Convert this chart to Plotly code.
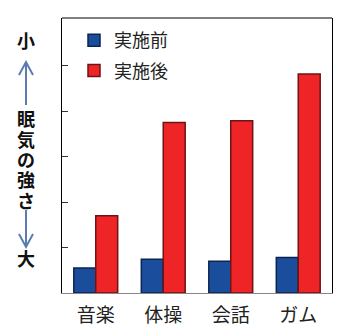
import plotly.graph_objects as go

# Activities and drowsiness scores before / after
categories = ["音楽", "体操", "会話", "ガム"]
before = [0.55, 0.74, 0.70, 0.78]
after = [1.70, 3.75, 3.79, 4.82]
series_names = ["実施前", "実施後"]
y_ticks = [1, 2, 3, 4, 5]

W, H = 342, 333
L, R, T, B = 62, 10, 18, 40
plot_w = W - L - R
plot_h = H - T - B

CJK = "Noto Sans CJK JP"
CAPTION_FONT = "Liberation Sans, Noto Sans CJK JP"


def px_x(x):
    return (x - L) / plot_w


def px_y(y):
    return (H - B - y) / plot_h


fig = go.Figure()
fig.add_trace(go.Bar(
    x=categories, y=before, name=series_names[0], legendgroup="a",
    marker=dict(color="#1A4E9C", line=dict(color="#0B2450", width=1.5)),
))
fig.add_trace(go.Bar(
    x=categories, y=after, name=series_names[1], legendgroup="b",
    marker=dict(color="#EE2426", line=dict(color="#6E1414", width=1.5)),
))

# Vertical axis caption: 小 ↑ 眠気の強さ ↓ 大
annotations = []
caption = [("小", 42), ("眠", 120), ("気", 140.5), ("の", 161), ("強", 181.5), ("さ", 202), ("大", 260)]
for ch, y in caption:
    annotations.append(dict(
        text=f"<b>{ch}</b>", xref="paper", yref="paper",
        x=px_x(26), y=px_y(y), xanchor="center", yanchor="middle",
        showarrow=False, font=dict(family=CAPTION_FONT, size=18, color="#111111"),
    ))

arrow_col = "#5A7DB0"
shapes = []


def arrow(x, y_from, y_to):
    d = 1 if y_to < y_from else -1  # 1: pointing up
    xs, ys = px_x(x), px_y(y_to)
    shapes.append(dict(type="line", xref="paper", yref="paper",
                       x0=px_x(x), x1=px_x(x), y0=px_y(y_from), y1=px_y(y_to),
                       line=dict(color=arrow_col, width=2)))
    path = (f"M {px_x(x - 7)},{px_y(y_to + d * 13)} L {xs},{ys} "
            f"L {px_x(x + 7)},{px_y(y_to + d * 13)}")
    shapes.append(dict(type="path", xref="paper", yref="paper", path=path,
                       line=dict(color=arrow_col, width=2)))


arrow(26, 105, 62)
arrow(26, 210, 247)

# top frame line
shapes.append(dict(type="line", xref="paper", yref="paper", x0=0, x1=1, y0=1, y1=1,
                   line=dict(color="black", width=1)))

fig.update_layout(
    width=W, height=H,
    margin=dict(l=L, r=R, t=T, b=B),
    paper_bgcolor="white", plot_bgcolor="white",
    barmode="group", bargap=0.35, bargroupgap=0,
    showlegend=True,
    legend=dict(x=px_x(74), y=px_y(22), xanchor="left", yanchor="top",
                bgcolor="rgba(0,0,0,0)", traceorder="grouped", tracegroupgap=4,
                font=dict(family=CJK, size=18, color="#222222")),
    annotations=annotations,
    shapes=shapes,
)
fig.update_xaxes(
    showline=True, linecolor="#888888", linewidth=1, mirror=False,
    ticks="", ticklabelstandoff=5, automargin=False,
    tickfont=dict(family=CJK, size=19, color="#222222"),
    showgrid=False,
)
fig.update_yaxes(
    range=[0, 6.05], showline=True, linecolor="black", linewidth=1, mirror=True,
    ticks="inside", ticklen=6, tickcolor="#333333", tickvals=y_ticks,
    showticklabels=False, showgrid=False, zeroline=False, automargin=False,
)

fig.write_html("out.html")
